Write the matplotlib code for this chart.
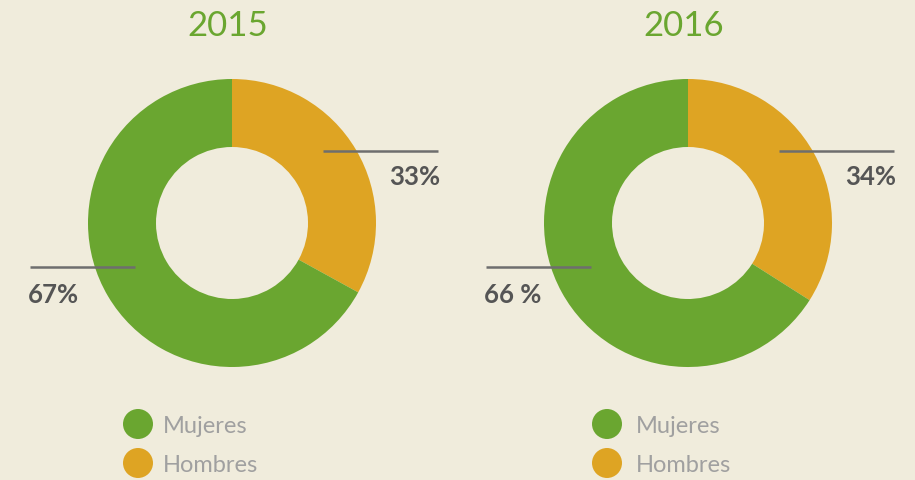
import matplotlib
matplotlib.use("Agg")
import matplotlib.pyplot as plt
from matplotlib.patches import Circle

# Data
years = ["2015", "2016"]
categories = ["Mujeres", "Hombres"]
hombres = [33, 34]
mujeres = [67, 66]
pct_labels_h = ["33%", "34%"]
pct_labels_m = ["67%", "66 %"]

GREEN = "#6aa630"
ORANGE = "#dea423"
BG = "#f0ecdc"
DARK = "#555555"
LINE = "#6e6e6e"
LEGEND_TXT = "#a0a0a0"

W, H = 915, 481
fig = plt.figure(figsize=(W / 100, H / 100), dpi=100, facecolor=BG)
ax = fig.add_axes([0, 0, 1, 1])
ax.set_facecolor(BG)

def py(y):
    # pixel row (from top) to data y (from bottom)
    return H - y

centers_x = [232, 688]
legend_dot_x = [138, 607]
legend_txt_x = [163, 636]
radius = 144
ring = 68

for i, cx in enumerate(centers_x):
    ax.pie([hombres[i], mujeres[i]], colors=[ORANGE, GREEN], startangle=90,
           counterclock=False, radius=radius, center=(cx, py(224)),
           wedgeprops=dict(width=ring, linewidth=0))

    ax.text(cx - 4, py(26), years[i], color=GREEN, fontsize=25,
            family="Lato", ha="center", va="center")

    # Leader line and label for Mujeres
    ax.plot([cx - 202, cx - 97], [py(268), py(268)], color=LINE, lw=1.8,
            solid_capstyle="butt")
    ax.text(cx - 204, py(295), pct_labels_m[i], color=DARK, fontsize=18.5,
            family="Lato", weight="bold", ha="left", va="center")

    # Leader line and label for Hombres
    ax.plot([cx + 91, cx + 206], [py(152), py(152)], color=LINE, lw=1.8,
            solid_capstyle="butt")
    ax.text(cx + 208, py(177), pct_labels_h[i], color=DARK, fontsize=18.5,
            family="Lato", weight="bold", ha="right", va="center")

    # Legend
    for j, (name, col) in enumerate(zip(categories, [GREEN, ORANGE])):
        yy = py(425 + 39 * j)
        ax.add_patch(Circle((legend_dot_x[i], yy), 15, color=col, lw=0))
        ax.text(legend_txt_x[i], yy, name, color=LEGEND_TXT, fontsize=17,
                family="Lato", ha="left", va="center_baseline")

ax.set_xlim(0, W)
ax.set_ylim(0, H)
ax.set_aspect("equal")
ax.set_axis_off()

fig.savefig("out.png", dpi=100, facecolor=BG)
